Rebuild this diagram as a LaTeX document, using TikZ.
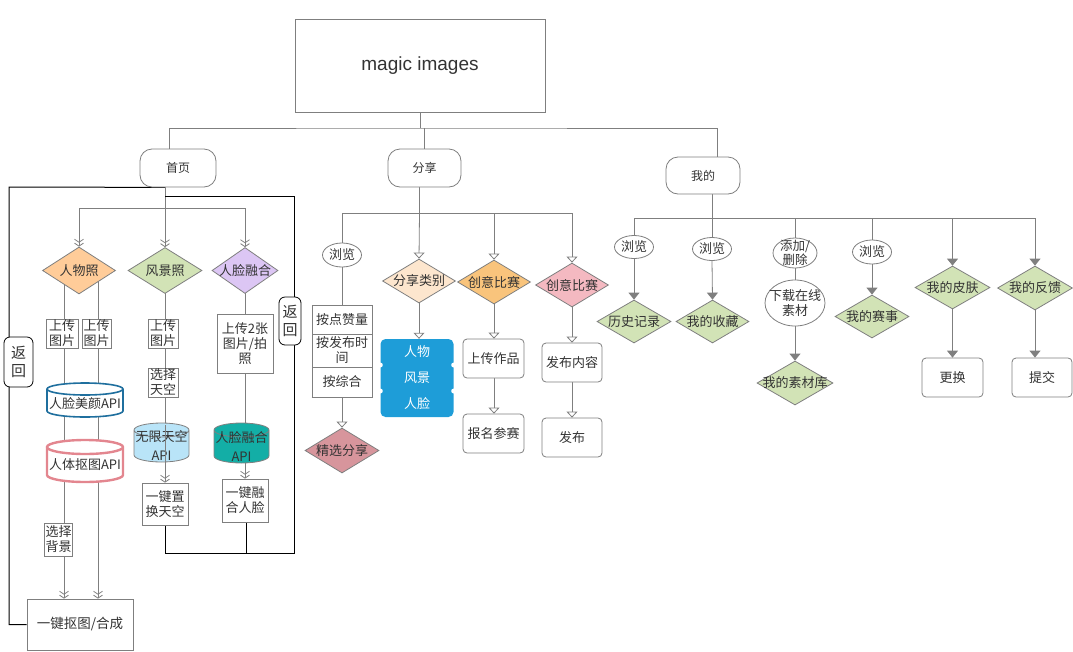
\documentclass[tikz,border=0pt]{standalone}
\usepackage{fontspec}
\setmainfont{Noto Sans CJK SC}
\newfontfamily\latinf{Liberation Sans}
\usetikzlibrary{shapes.geometric,arrows.meta,backgrounds}
\definecolor{lg}{HTML}{7F7F7F}
\definecolor{txt}{HTML}{333333}
\definecolor{cOr}{HTML}{FFCC99}
\definecolor{cGr}{HTML}{D2E3B6}
\definecolor{cPu}{HTML}{DCC6F4}
\definecolor{cSky}{HTML}{B9E4F8}
\definecolor{cTeal}{HTML}{13AEA6}
\definecolor{cBlueB}{HTML}{1F6F9E}
\definecolor{cPinkB}{HTML}{E3868F}
\definecolor{cBis}{HTML}{FDE6CE}
\definecolor{cOrB}{HTML}{F9C47C}
\definecolor{cPk}{HTML}{F4B9C1}
\definecolor{cDp}{HTML}{D7959C}
\definecolor{cBl}{HTML}{1E9DD8}
% cylinder: cx, top, bottom, rx, ry, fill, draw options
\newcommand\cylshape[7]{%
 \fill[#6] (#1-#4,#2+#5) -- (#1-#4,#3-#5) arc[start angle=180,end angle=360,x radius=#4pt,y radius=#5pt] -- (#1+#4,#2+#5) arc[start angle=0,end angle=180,x radius=#4pt,y radius=#5pt] -- cycle;
 \draw[#7] (#1-#4,#2+#5) -- (#1-#4,#3-#5) arc[start angle=180,end angle=360,x radius=#4pt,y radius=#5pt] -- (#1+#4,#2+#5) arc[start angle=0,end angle=180,x radius=#4pt,y radius=#5pt] arc[start angle=180,end angle=360,x radius=#4pt,y radius=#5pt];
}
\begin{document}
\begin{tikzpicture}[x=1pt,y=-1pt,
 base/.style={font=\fontsize{13}{15}\selectfont, text=txt, align=center, inner sep=1pt},
 box/.style={base, draw=lg, line width=0.8pt, fill=white},
 rbox/.style={box, rounded corners=4pt},
 tbox/.style={box, rounded corners=12pt, font=\fontsize{12}{14}\selectfont},
 dia/.style={diamond, draw=lg, line width=0.8pt, inner sep=0pt},
 dt/.style={label={[base]center:#1}},
 ell/.style={ellipse, draw=lg, line width=0.8pt, fill=white, inner sep=0pt},
 ln/.style={draw=lg, line width=0.8pt},
 a1/.style={ln, -{Straight Barb[length=3pt,width=9pt] Straight Barb[length=3pt,width=9pt]}},
 a2/.style={ln, -{Triangle[open, length=6pt, width=11pt, fill=white]}},
 a3/.style={ln, -{Triangle[length=7pt, width=11pt]}},
 blk/.style={draw=black, line width=1pt},
 back/.style={base, draw=black, fill=white, line width=0.8pt, rounded corners=6pt, font=\fontsize{15}{18}\selectfont, inner sep=1pt},
 cyltext/.style={base, inner sep=0pt}
]
\useasboundingbox (0,0) rectangle (1073,651);

% ---------- top level ----------
\node[box, minimum width=250, minimum height=93, font=\latinf\fontsize{19}{22}\selectfont] (root) at (420,65.5) {magic images};
\node[tbox, minimum width=76, minimum height=38] (sy) at (178,168) {首页};
\node[tbox, minimum width=73, minimum height=38] (fx) at (424.5,168) {分享};
\node[tbox, minimum width=74, minimum height=37] (wd) at (703,175.5) {我的};
\coordinate (t0) at (420,128);

% ---------- 首页 ----------
\coordinate (L1) at (64,0);
\coordinate (L2) at (98,0);
\coordinate (L3) at (165,0);
\coordinate (L4) at (245,0);
\node[dia, fill=cOr, minimum width=73, minimum height=47, dt=人物照] (rw) at (79,270.5) {};
\node[dia, fill=cGr, minimum width=74, minimum height=46, dt=风景照] (fj) at (165,270.5) {};
\node[dia, fill=cPu, minimum width=66, minimum height=46, dt=人脸融合] (rl) at (245,270.5) {};
\node[box, minimum width=32, minimum height=29] (up1) at (62,333.5) {上传\\图片};
\node[box, minimum width=29, minimum height=29] (up2) at (96.5,333.5) {上传\\图片};
\cylshape{85}{383}{417}{38}{6}{white}{draw=cBlueB, line width=1.6pt}
\node[cyltext, minimum width=76, minimum height=30] (mb) at (85,404) {人脸美颜API};
\cylshape{85}{440}{482}{38}{7}{white}{draw=cPinkB, line width=2.4pt}
\node[cyltext, minimum width=76, minimum height=34] (kt2) at (85,465) {人体抠图API};
\node[box, minimum width=25, minimum height=33] (kt) at (58.5,539.5) {选择\\背景};
\node[box, minimum width=106, minimum height=51, font=\fontsize{13.5}{15}\selectfont] (yj) at (80,624.5) {一键抠图/合成};

\node[box, minimum width=30, minimum height=29] (up3) at (163,333.5) {上传\\图片};
\node[box, minimum width=30, minimum height=29] (xt) at (163,382.5) {选择\\天空};
\cylshape{161.5}{423}{462}{27.5}{7}{cSky}{draw=lg, line width=0.8pt}
\node[cyltext, minimum width=55, minimum height=39, font=\fontsize{13}{19}\selectfont] (wx) at (161.5,445) {无限天空\\API};
\node[box, minimum width=46, minimum height=42] (hs) at (165,504) {一键置\\换天空};

\node[box, minimum width=56, minimum height=59] (u2) at (245,343.5) {上传2张\\图片/拍\\照};
\cylshape{241.5}{423}{463}{27.5}{7}{cTeal}{draw=lg, line width=0.8pt}
\node[cyltext, minimum width=55, minimum height=40, font=\fontsize{13}{19}\selectfont] (rha) at (241.5,446) {人脸融合\\API};
\node[box, minimum width=46, minimum height=43] (rh) at (245,500.5) {一键融\\合人脸};

\node[back, minimum width=29, minimum height=50] (bk1) at (18.5,362) {返\\回};
\node[back, minimum width=22, minimum height=48] (bk2) at (290,321) {返\\回};

% ---------- 分享 ----------
\node[ell, minimum width=39, minimum height=24, dt=浏览] (ll1) at (342,255) {};
\node[box, minimum width=60, minimum height=29] (s1) at (342,319.5) {按点赞量};
\node[box, minimum width=60, minimum height=33] (s2) at (342,350.5) {按发布时\\间};
\node[box, minimum width=60, minimum height=30] (s3) at (342,382) {按综合};
\node[dia, fill=cDp, minimum width=74, minimum height=45, dt=精选分享] (jx) at (342,450.5) {};
\node[dia, fill=cBis, minimum width=73, minimum height=44, dt=分享类别] (fl) at (419,281) {};
\node[fill=cBl, rounded corners=5pt, minimum width=73, minimum height=78, inner sep=0pt] (bb) at (417,378) {};
\foreach \yy in {365,391}{
 \fill[white] (bb.west |- 0,\yy) circle (2.5pt);
 \fill[white] (bb.east |- 0,\yy) circle (2.5pt);
}
\node[base, text=white] (c1) at (417,352) {人物};
\node[base, text=white] (c2) at (417,378) {风景};
\node[base, text=white] (c3) at (417,404) {人脸};
\node[dia, fill=cOrB, minimum width=73, minimum height=44, dt=创意比赛] (cy1) at (494,282) {};
\node[rbox, minimum width=61, minimum height=39] (sc) at (493.5,358.5) {上传作品};
\node[rbox, minimum width=61, minimum height=39] (bm) at (493.5,433.5) {报名参赛};
\node[dia, fill=cPk, minimum width=73, minimum height=44, dt=创意比赛] (cy2) at (572,285) {};
\node[rbox, minimum width=60, minimum height=39] (fb1) at (572,362.5) {发布内容};
\node[rbox, minimum width=60, minimum height=39] (fb2) at (572,437.5) {发布};

% ---------- 我的 ----------
\node[ell, minimum width=39, minimum height=23, dt=浏览] (w1) at (634,247) {};
\node[dia, fill=cGr, minimum width=74, minimum height=43, dt=历史记录] (ls) at (634,321.5) {};
\node[ell, minimum width=39, minimum height=23, dt=浏览] (w2) at (712,249) {};
\node[dia, fill=cGr, minimum width=73, minimum height=43, dt=我的收藏] (sc2) at (712.5,321.5) {};
\node[ell, minimum width=44, minimum height=30, label={[base, font=\fontsize{12.5}{13.5}\selectfont]center:添加/\\删除}] (w3) at (795,253) {};
\node[ell, minimum width=60, minimum height=46, label={[base]center:下载在线\\素材}] (xz) at (795,303) {};
\node[dia, fill=cGr, minimum width=76, minimum height=44, dt=我的素材库] (sck) at (795,383) {};
\node[ell, minimum width=39, minimum height=24, dt=浏览] (w4) at (872,252) {};
\node[dia, fill=cGr, minimum width=74, minimum height=43, dt=我的赛事] (ss) at (872,316.5) {};
\node[dia, fill=cGr, minimum width=75, minimum height=43, dt=我的皮肤] (pf) at (952.5,287.5) {};
\node[rbox, minimum width=61, minimum height=39] (gh) at (952.5,377.5) {更换};
\node[dia, fill=cGr, minimum width=75, minimum height=44, dt=我的反馈] (fk) at (1035,288) {};
\node[rbox, minimum width=60, minimum height=39] (tj) at (1042,377.5) {提交};

% overlay line through the sky cylinder
\draw[ln] (L3 |- wx.north) -- (L3 |- wx.south);
\draw[lg, line width=1.6pt] (s3.south west) -- (s3.south east);

\begin{pgfonlayer}{background}
% top tree
\draw[ln] (root.south) -- (t0);
\draw[ln] (fx.north) -- (fx.north |- t0);
\draw[ln] ([xshift=-9pt]sy.north) |- (t0) -| ([xshift=14pt]wd.north);
% 首页 tree
\coordinate (sj) at ([xshift=-13pt,yshift=-21pt]sy.south);
\draw[ln] ([xshift=-13pt]sy.south) -- (sj);
\draw[ln] (sj -| rw.north) -- (sj -| rl.north);
\draw[a1] (sj -| rw.north) -- (rw.north);
\draw[a1] (sj) -- (fj.north);
\draw[a1] (sj -| rl.north) -- (rl.north);
\draw[ln] (L1 |- rw.center) -- (L1 |- kt.north);
\draw[a1] (L1 |- kt.south) -- (L1 |- yj.north);
\draw[a1] (L2 |- rw.center) -- (L2 |- yj.north);
\draw[a1] (L3 |- fj.center) -- (L3 |- hs.north);
\draw[a1] (L4 |- rl.center) -- (L4 |- rh.north);
% return lines
\draw[blk] ([xshift=-13pt]sy.south) -- (9,187) |- (yj.west);
\draw[blk] ([xshift=-13pt,yshift=-9pt]sy.south) -| (294,553) -| (hs.south);
\draw[blk] ([xshift=1pt]rh.south) -- ([xshift=1pt]rh.south |- 0,553);
% 分享 tree
\coordinate (fj2) at ([xshift=-5pt,yshift=-26pt]fx.south);
\draw[ln] ([xshift=-5pt]fx.south) -- (fj2);
\draw[ln] (ll1.north |- fj2) -- (cy2.north |- fj2);
\draw[ln] (ll1.north |- fj2) -- (ll1.north);
\draw[ln] (ll1.south) -- (s1.north);
\draw[a2] (s3.south) -- (jx.north);
\draw[a2] (fj2) -- (fl.north);
\draw[a2] (fl.south) -- (fl.south |- bb.north);
\draw[a2] (cy1.north |- fj2) -- (cy1.north);
\draw[a2] (cy1.south) -- (cy1.south |- sc.north);
\draw[a2] (cy1.south |- sc.south) -- (cy1.south |- bm.north);
\draw[a2] (cy2.north |- fj2) -- (cy2.north);
\draw[a2] (cy2.south) -- (fb1.north);
\draw[a2] (fb1.south) -- (fb2.north);
% 我的 tree
\coordinate (wj) at ([xshift=9pt,yshift=-24pt]wd.south);
\draw[ln] ([xshift=9pt]wd.south) -- (wj);
\draw[ln] (w1.north |- wj) -- (fk.north |- wj);
\draw[ln] (w1.north |- wj) -- (w1.north);
\draw[a3] (w1.south) -- (ls.north);
\draw[ln] (w2.north |- wj) -- (w2.north);
\draw[a3] (w2.south) -- (sc2.north);
\draw[ln] (w3.north |- wj) -- (w3.north);
\draw[ln] (w3.south) -- (xz.north);
\draw[a3] (xz.south) -- (sck.north);
\draw[ln] (w4.north |- wj) -- (w4.north);
\draw[a3] (w4.south) -- (ss.north);
\draw[a3] (pf.north |- wj) -- (pf.north);
\draw[a3] (pf.south) -- (pf.south |- gh.north);
\draw[a3] (fk.north |- wj) -- (fk.north);
\draw[a3] (fk.south) -- (fk.south |- tj.north);
\end{pgfonlayer}
\end{tikzpicture}
\end{document}
